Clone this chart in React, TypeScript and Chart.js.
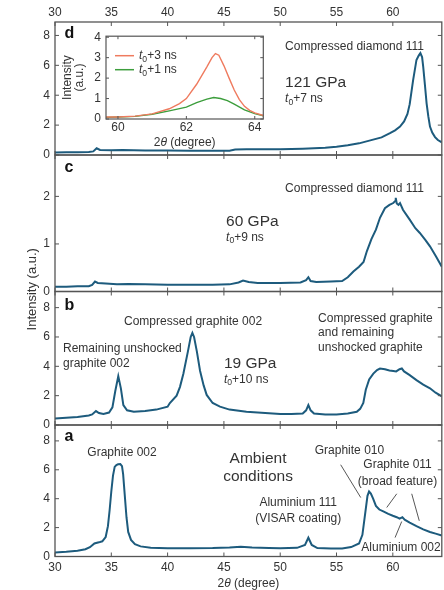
import React, { useEffect, useRef } from 'react';
import { Chart, registerables } from 'chart.js';

Chart.register(...registerables);

const FONT = "'Liberation Sans', Arial, Helvetica, sans-serif";
const LINE = '#1d5b7d';
const FRAME = '#555555';
const TXT = '#333333';
const TL = 4;

// ---- data: 2θ (degree) / intensity (a.u.) ----
// panel a: ambient conditions
const xA = [30, 31, 32, 32.7, 33.1, 33.5, 33.9, 34.2, 34.5, 34.7, 34.85, 35.0, 35.15, 35.3, 35.45, 35.6, 35.8, 35.95, 36.05, 36.2, 36.35, 36.5, 36.75, 37.1, 37.6, 38.5, 40, 42, 44, 45.5, 46.5, 47.5, 49, 50, 51.5, 52.2, 52.5, 52.8, 53.3, 54.5, 55.5, 56.3, 57.0, 57.3, 57.55, 57.75, 57.89, 58.05, 58.25, 58.5, 58.8, 59.2, 59.6, 60.0, 60.35, 60.6, 60.85, 61.05, 61.5, 62.1, 62.7, 63.3, 63.8, 64.35];
const yA = [0.28, 0.33, 0.4, 0.5, 0.64, 0.9, 0.98, 1.05, 1.35, 2.1, 3.2, 4.5, 5.6, 6.2, 6.33, 6.38, 6.4, 6.25, 5.7, 4.2, 2.7, 1.7, 1.15, 0.85, 0.7, 0.6, 0.57, 0.57, 0.58, 0.62, 0.68, 0.62, 0.58, 0.57, 0.6, 0.8, 1.3, 0.8, 0.58, 0.55, 0.55, 0.65, 0.9, 1.5, 3.0, 4.2, 4.5, 4.35, 4.0, 3.5, 3.25, 3.1, 2.95, 2.82, 2.72, 2.62, 2.72, 2.55, 2.35, 2.1, 1.88, 1.7, 1.58, 1.45];
// panel b: 19 GPa
const xB = [30, 31, 32, 33, 33.3, 33.64, 33.9, 34.3, 34.8, 35.1, 35.35, 35.62, 35.85, 36.07, 36.4, 37, 38, 39, 40, 40.2, 40.8, 41.1, 41.4, 41.8, 42.05, 42.2, 42.35, 42.6, 42.88, 43.2, 43.47, 44, 44.65, 45.5, 47, 48, 50, 51, 52, 52.3, 52.5, 52.7, 53, 54, 55, 56, 56.8, 57.1, 57.38, 57.6, 57.9, 58.27, 58.6, 58.86, 59.3, 59.7, 60.04, 60.3, 60.6, 60.8, 61.0, 61.5, 62.1, 62.7, 63.3, 63.8, 64.35];
const yB = [0.45, 0.5, 0.55, 0.65, 0.72, 0.95, 0.82, 0.75, 0.85, 1.2, 2.3, 3.33, 2.5, 1.36, 1.0, 0.9, 0.95, 1.05, 1.25, 1.5, 2.0, 2.6, 3.5, 5.0, 6.0, 6.28, 6.0, 5.0, 3.7, 2.7, 2.05, 1.5, 1.25, 1.05, 0.9, 0.85, 0.75, 0.75, 0.78, 1.0, 1.36, 1.0, 0.78, 0.72, 0.72, 0.78, 0.9, 1.1, 1.5, 2.4, 3.1, 3.5, 3.75, 3.85, 3.8, 3.72, 3.68, 3.65, 3.8, 3.85, 3.65, 3.4, 3.06, 2.75, 2.5, 2.2, 1.95];
// panel c: 60 GPa
const xC = [30, 31, 32, 33, 33.3, 33.55, 33.8, 34.5, 35.5, 36.5, 38, 40, 42, 44, 45.5, 46.3, 46.7, 47.2, 48, 50, 51.8, 52.3, 52.5, 52.7, 53.2, 54.5, 55.5, 56.0, 56.5, 57.0, 57.4, 57.7, 58.1, 58.5, 58.86, 59.3, 59.7, 60.04, 60.2, 60.26, 60.35, 60.5, 60.64, 60.9, 61.5, 62.0, 62.4, 62.9, 63.3, 63.8, 64.35];
const yC = [0.1, 0.1, 0.11, 0.11, 0.14, 0.21, 0.18, 0.17, 0.15, 0.16, 0.15, 0.14, 0.14, 0.14, 0.15, 0.19, 0.23, 0.2, 0.18, 0.18, 0.19, 0.24, 0.3, 0.22, 0.2, 0.21, 0.22, 0.3, 0.42, 0.52, 0.62, 0.85, 1.1, 1.3, 1.55, 1.75, 1.82, 1.86, 1.9, 1.97, 1.85, 1.82, 1.86, 1.72, 1.51, 1.33, 1.23, 1.08, 0.95, 0.75, 0.52];
// panel d: 121 GPa
const xD = [30, 31, 32, 33, 33.4, 33.7, 34.0, 35, 36, 38, 40, 42, 44, 45.5, 46, 47, 48, 50, 52, 53, 54, 55, 56, 57, 58, 59, 59.75, 60.2, 60.64, 61.0, 61.3, 61.5, 61.8, 62.1, 62.3, 62.45, 62.6, 62.7, 62.85, 63.0, 63.15, 63.3, 63.5, 63.75, 64.0, 64.35];
const yD = [0.17, 0.18, 0.19, 0.2, 0.24, 0.45, 0.34, 0.32, 0.33, 0.3, 0.3, 0.28, 0.28, 0.29, 0.37, 0.38, 0.38, 0.39, 0.42, 0.45, 0.49, 0.56, 0.65, 0.78, 0.98, 1.18, 1.46, 1.65, 1.9, 2.25, 2.75, 3.4, 5.0, 6.36, 6.65, 6.82, 6.55, 5.9, 4.7, 3.46, 2.6, 1.9, 1.5, 1.2, 1.0, 0.85];
// inset
const insXRed = [59.65, 60, 60.5, 61, 61.5, 61.8, 62, 62.3, 62.6, 62.75, 62.85, 62.95, 63.1, 63.25, 63.4, 63.55, 63.7, 63.85, 64, 64.25];
const insRed = [0.1, 0.1, 0.14, 0.25, 0.5, 0.75, 1.0, 1.7, 2.55, 3.0, 3.2, 3.12, 2.6, 2.0, 1.42, 0.95, 0.62, 0.42, 0.3, 0.17];
const insXGreen = [59.65, 60, 60.5, 61, 61.5, 62, 62.3, 62.6, 62.8, 63, 63.2, 63.4, 63.7, 64, 64.25];
const insGreen = [0.08, 0.1, 0.13, 0.23, 0.4, 0.58, 0.8, 0.97, 1.05, 1.0, 0.9, 0.73, 0.45, 0.26, 0.16];

// ticks
const xTicks = [30, 35, 40, 45, 50, 55, 60];
const yTicksBig = [0, 2, 4, 6, 8];
const yTicksC = [0, 1, 2];
const insXTicks = [60, 62, 64];
const insYTicks = [0, 1, 2, 3, 4];

const X_MIN = 30;
const X_MAX = 64.35;

type Part = { t: string; it?: boolean; sub?: boolean };
type Note = { axis: string; x: number; y: number; parts: Part[]; size?: number; bold?: boolean; align?: 'left' | 'center' };
const P = (s: string): Part[] => [{ t: s }];
const T0 = (rest: string): Part[] => [{ t: 't', it: true }, { t: '0', sub: true }, { t: rest }];

const panels = [
  { id: 'yA', max: 9.1, weight: 131.5, ticks: yTicksBig, xs: xA, ys: yA },
  { id: 'yB', max: 9.1, weight: 133.5, ticks: yTicksBig, xs: xB, ys: yB },
  { id: 'yC', max: 2.87, weight: 136.5, ticks: yTicksC, xs: xC, ys: yC },
  { id: 'yD', max: 8.9, weight: 133, ticks: yTicksBig, xs: xD, ys: yD },
];

const notes: Note[] = [
  { axis: 'yD', x: 30.85, y: 8.1, parts: P('d'), size: 16, bold: true },
  { axis: 'yD', x: 50.43, y: 7.25, parts: P('Compressed diamond 111') },
  { axis: 'yD', x: 50.43, y: 4.87, parts: P('121 GPa'), size: 15.5 },
  { axis: 'yD', x: 50.43, y: 3.75, parts: T0('+7 ns') },
  { axis: 'yC', x: 30.85, y: 2.6, parts: P('c'), size: 16, bold: true },
  { axis: 'yC', x: 50.43, y: 2.17, parts: P('Compressed diamond 111') },
  { axis: 'yC', x: 45.19, y: 1.47, parts: P('60 GPa'), size: 15.5 },
  { axis: 'yC', x: 45.19, y: 1.14, parts: T0('+9 ns') },
  { axis: 'yB', x: 30.85, y: 8.17, parts: P('b'), size: 16, bold: true },
  { axis: 'yB', x: 36.13, y: 7.05, parts: P('Compressed graphite 002') },
  { axis: 'yB', x: 30.71, y: 5.19, parts: P('Remaining unshocked') },
  { axis: 'yB', x: 30.71, y: 4.21, parts: P('graphite 002') },
  { axis: 'yB', x: 45.0, y: 4.16, parts: P('19 GPa'), size: 15.5 },
  { axis: 'yB', x: 45.0, y: 3.12, parts: T0('+10 ns') },
  { axis: 'yB', x: 53.36, y: 7.22, parts: P('Compressed graphite') },
  { axis: 'yB', x: 53.36, y: 6.26, parts: P('and remaining') },
  { axis: 'yB', x: 53.36, y: 5.28, parts: P('unshocked graphite') },
  { axis: 'yA', x: 30.85, y: 8.32, parts: P('a'), size: 16, bold: true },
  { axis: 'yA', x: 35.95, y: 7.17, parts: P('Graphite 002'), align: 'center' },
  { axis: 'yA', x: 48.03, y: 6.75, parts: P('Ambient'), size: 15.5, align: 'center' },
  { axis: 'yA', x: 48.03, y: 5.5, parts: P('conditions'), size: 15.5, align: 'center' },
  { axis: 'yA', x: 51.6, y: 3.74, parts: P('Aluminium 111'), align: 'center' },
  { axis: 'yA', x: 51.6, y: 2.65, parts: P('(VISAR coating)'), align: 'center' },
  { axis: 'yA', x: 56.15, y: 7.35, parts: P('Graphite 010'), align: 'center' },
  { axis: 'yA', x: 60.42, y: 6.35, parts: P('Graphite 011'), align: 'center' },
  { axis: 'yA', x: 60.42, y: 5.19, parts: P('(broad feature)'), align: 'center' },
  { axis: 'yA', x: 60.73, y: 0.64, parts: P('Aluminium 002'), align: 'center' },
];

const leaders = [
  { axis: 'yA', x1: 55.37, y1: 6.35, x2: 57.15, y2: 4.08 },
  { axis: 'yA', x1: 60.35, y1: 4.34, x2: 59.46, y2: 3.39 },
  { axis: 'yA', x1: 61.68, y1: 4.34, x2: 62.35, y2: 2.47 },
  { axis: 'yA', x1: 60.79, y1: 2.42, x2: 60.2, y2: 1.31 },
];

function fontOf(p: Part, size: number, bold?: boolean) {
  const s = p.sub ? size * 0.72 : size;
  return `${p.it ? 'italic ' : ''}${bold ? 'bold ' : ''}${s}px ${FONT}`;
}

function drawRich(ctx: CanvasRenderingContext2D, x: number, y: number, parts: Part[], size: number, bold?: boolean, align: 'left' | 'center' = 'left', color = TXT) {
  ctx.save();
  ctx.textBaseline = 'middle';
  ctx.textAlign = 'left';
  ctx.fillStyle = color;
  const widths = parts.map((p) => {
    ctx.font = fontOf(p, size, bold);
    return ctx.measureText(p.t).width;
  });
  const total = widths.reduce((a, b) => a + b, 0);
  let cx = align === 'center' ? x - total / 2 : x;
  parts.forEach((p, i) => {
    ctx.font = fontOf(p, size, bold);
    ctx.fillText(p.t, cx, p.sub ? y + size * 0.3 : y);
    cx += widths[i];
  });
  ctx.restore();
}

const mainPlugin = {
  id: 'mainDeco',
  afterDraw(chart: any) {
    const ctx: CanvasRenderingContext2D = chart.ctx;
    const ca = chart.chartArea;
    const xs = chart.scales.x;
    ctx.save();
    for (const p of panels) {
      const s = chart.scales[p.id];
      ctx.strokeStyle = FRAME;
      ctx.lineWidth = 1.3;
      ctx.strokeRect(ca.left, s.top, ca.right - ca.left, s.bottom - s.top);
      ctx.beginPath();
      for (const v of xTicks) {
        const px = xs.getPixelForValue(v);
        ctx.moveTo(px, s.top);
        ctx.lineTo(px, s.top + TL);
        ctx.moveTo(px, s.bottom);
        ctx.lineTo(px, s.bottom - TL);
      }
      for (const v of p.ticks) {
        const py = s.getPixelForValue(v);
        ctx.moveTo(ca.left, py);
        ctx.lineTo(ca.left + TL, py);
        ctx.moveTo(ca.right, py);
        ctx.lineTo(ca.right - TL, py);
      }
      ctx.lineWidth = 1;
      ctx.stroke();
    }
    // leader lines
    ctx.strokeStyle = '#444';
    ctx.lineWidth = 0.9;
    for (const l of leaders) {
      const s = chart.scales[l.axis];
      ctx.beginPath();
      ctx.moveTo(xs.getPixelForValue(l.x1), s.getPixelForValue(l.y1));
      ctx.lineTo(xs.getPixelForValue(l.x2), s.getPixelForValue(l.y2));
      ctx.stroke();
    }
    // notes
    for (const n of notes) {
      const s = chart.scales[n.axis];
      drawRich(ctx, xs.getPixelForValue(n.x), s.getPixelForValue(n.y), n.parts, n.size ?? 12, n.bold, n.align ?? 'left', n.bold ? '#111' : TXT);
    }
    // axis titles
    ctx.save();
    ctx.translate(32, (ca.top + ca.bottom) / 2);
    ctx.rotate(-Math.PI / 2);
    ctx.fillStyle = TXT;
    ctx.font = `13px ${FONT}`;
    ctx.textAlign = 'center';
    ctx.textBaseline = 'middle';
    ctx.fillText('Intensity (a.u.)', 0, 0);
    ctx.restore();
    drawRich(ctx, (ca.left + ca.right) / 2, ca.bottom + 27.5, [{ t: '2' }, { t: 'θ', it: true }, { t: ' (degree)' }], 12, false, 'center');
    ctx.restore();
  },
};

const insetPlugin = {
  id: 'insetDeco',
  afterDraw(chart: any) {
    const ctx: CanvasRenderingContext2D = chart.ctx;
    const ca = chart.chartArea;
    const xs = chart.scales.x;
    const ys = chart.scales.y;
    ctx.save();
    ctx.strokeStyle = FRAME;
    ctx.lineWidth = 1.2;
    ctx.strokeRect(ca.left, ca.top, ca.right - ca.left, ca.bottom - ca.top);
    ctx.beginPath();
    for (const v of insXTicks) {
      const px = xs.getPixelForValue(v);
      ctx.moveTo(px, ca.bottom);
      ctx.lineTo(px, ca.bottom - 3);
      ctx.moveTo(px, ca.top);
      ctx.lineTo(px, ca.top + 3);
    }
    for (const v of insYTicks) {
      const py = ys.getPixelForValue(v);
      ctx.moveTo(ca.left, py);
      ctx.lineTo(ca.left + 3, py);
      ctx.moveTo(ca.right, py);
      ctx.lineTo(ca.right - 3, py);
    }
    ctx.lineWidth = 1;
    ctx.stroke();
    // legend
    const ds = chart.data.datasets;
    const rows = [ca.top + 19.5, ca.top + 33.5];
    ds.forEach((d: any, i: number) => {
      ctx.strokeStyle = d.borderColor;
      ctx.lineWidth = 1.5;
      ctx.beginPath();
      ctx.moveTo(ca.left + 9, rows[i]);
      ctx.lineTo(ca.left + 28, rows[i]);
      ctx.stroke();
      drawRich(ctx, ca.left + 33, rows[i], T0(d.label), 12);
    });
    // titles
    ctx.save();
    ctx.translate(8, (ca.top + ca.bottom) / 2);
    ctx.rotate(-Math.PI / 2);
    ctx.fillStyle = TXT;
    ctx.font = `12px ${FONT}`;
    ctx.textAlign = 'center';
    ctx.textBaseline = 'middle';
    ctx.fillText('Intensity', 0, 0);
    ctx.fillText('(a.u.)', 0, 12);
    ctx.restore();
    drawRich(ctx, (ca.left + ca.right) / 2, ca.bottom + 23.5, [{ t: '2' }, { t: 'θ', it: true }, { t: ' (degree)' }], 12, false, 'center');
    ctx.restore();
  },
};

function pts(xs: number[], ys: number[]) {
  return xs.map((x, i) => ({ x, y: ys[i] }));
}

export default function App() {
  const mainRef = useRef<HTMLCanvasElement>(null);
  const insetRef = useRef<HTMLCanvasElement>(null);

  useEffect(() => {
    Chart.defaults.font.family = FONT;
    Chart.defaults.font.size = 12;
    Chart.defaults.color = TXT;

    const hideGrid = { display: false, drawTicks: false };
    const scales: any = {
      x: {
        type: 'linear', position: 'bottom', min: X_MIN, max: X_MAX,
        afterBuildTicks: (s: any) => { s.ticks = xTicks.map((v) => ({ value: v })); },
        ticks: { autoSkip: false, maxRotation: 0, padding: 3.5 },
        grid: hideGrid, border: { display: false },
        afterFit: (s: any) => { s.height = 33.5; },
      },
      x2: {
        type: 'linear', position: 'top', min: X_MIN, max: X_MAX,
        afterBuildTicks: (s: any) => { s.ticks = xTicks.map((v) => ({ value: v })); },
        ticks: { autoSkip: false, maxRotation: 0, padding: 2.5 },
        grid: hideGrid, border: { display: false },
        afterFit: (s: any) => { s.height = 22; },
      },
    };
    panels.forEach((p, i) => {
      scales[p.id] = {
        type: 'linear', position: 'left', stack: 'panels', stackWeight: p.weight, weight: i + 1,
        min: 0, max: p.max,
        afterBuildTicks: (s: any) => { s.ticks = p.ticks.map((v) => ({ value: v })); },
        ticks: { autoSkip: false, padding: 5 },
        grid: hideGrid, border: { display: false },
        afterFit: (s: any) => { s.width = 55; },
      };
    });

    const main = new Chart(mainRef.current as HTMLCanvasElement, {
      type: 'line',
      data: {
        datasets: panels.map((p) => ({
          data: pts(p.xs, p.ys), yAxisID: p.id, xAxisID: 'x',
          borderColor: LINE, borderWidth: 2, pointRadius: 0, tension: 0, fill: false,
        })),
      },
      options: {
        animation: false, responsive: false, maintainAspectRatio: false,
        layout: { padding: { left: 0, right: 2.2, top: 0, bottom: 0 } },
        plugins: { legend: { display: false }, tooltip: { enabled: false } },
        scales,
      },
      plugins: [mainPlugin],
    } as any);

    const inset = new Chart(insetRef.current as HTMLCanvasElement, {
      type: 'line',
      data: {
        datasets: [
          { label: '+3 ns', data: pts(insXRed, insRed), borderColor: '#ef7b5f', borderWidth: 1.4, pointRadius: 0, tension: 0 },
          { label: '+1 ns', data: pts(insXGreen, insGreen), borderColor: '#3d9e3d', borderWidth: 1.4, pointRadius: 0, tension: 0 },
        ],
      },
      options: {
        animation: false, responsive: false, maintainAspectRatio: false,
        layout: { padding: { left: 0, right: 6.7, top: 0, bottom: 0 } },
        plugins: { legend: { display: false }, tooltip: { enabled: false } },
        scales: {
          x: {
            type: 'linear', min: 59.65, max: 64.25,
            afterBuildTicks: (s: any) => { s.ticks = insXTicks.map((v) => ({ value: v })); },
            ticks: { autoSkip: false, maxRotation: 0, padding: 1.5 },
            grid: hideGrid, border: { display: false },
            afterFit: (s: any) => { s.height = 34; },
          },
          y: {
            type: 'linear', min: 0, max: 4.05,
            afterBuildTicks: (s: any) => { s.ticks = insYTicks.map((v) => ({ value: v })); },
            ticks: { autoSkip: false, padding: 5 },
            grid: hideGrid, border: { display: false },
            afterFit: (s: any) => { s.width = 46; },
          },
        },
      },
      plugins: [insetPlugin],
    } as any);

    return () => {
      main.destroy();
      inset.destroy();
    };
  }, []);

  return (
    <div style={{ position: 'absolute', left: 0, top: 0, width: 444, height: 590, background: '#fff' }}>
      <canvas ref={mainRef} width={444} height={590} style={{ position: 'absolute', left: 0, top: 0, width: 444, height: 590 }} />
      <canvas ref={insetRef} width={210} height={129} style={{ position: 'absolute', left: 60, top: 24, width: 210, height: 129 }} />
    </div>
  );
}
